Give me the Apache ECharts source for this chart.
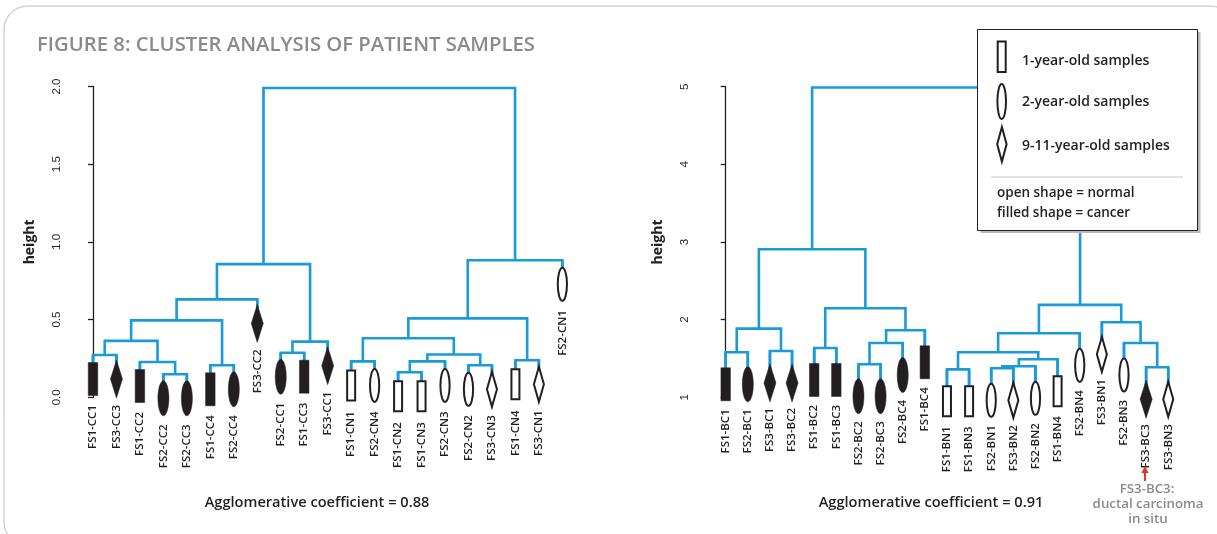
<!DOCTYPE html>
<html><head><meta charset="utf-8">
<script src="https://cdn.jsdelivr.net/npm/echarts@6/dist/echarts.min.js"></script>
<style>html,body{margin:0;padding:0;background:#fff}#c{width:1217px;height:534px}</style>
</head><body><div id="c"></div>
<script>
// ---------- Left dendrogram (C samples) ----------
const leftLabels = ['FS1-CC1','FS3-CC3','FS1-CC2','FS2-CC2','FS2-CC3','FS1-CC4','FS2-CC4','FS3-CC2','FS2-CC1','FS1-CC3','FS3-CC1',
  'FS1-CN1','FS2-CN4','FS1-CN2','FS1-CN3','FS2-CN3','FS2-CN2','FS3-CN3','FS1-CN4','FS3-CN1','FS2-CN1'];
const leftShapes = ['rect','diamond','rect','ellipse','ellipse','rect','ellipse','diamond','ellipse','rect','diamond',
  'rect','ellipse','rect','rect','ellipse','ellipse','diamond','rect','diamond','ellipse'];
const leftFilled = [1,1,1,1,1,1,1,1,1,1,1, 0,0,0,0,0,0,0,0,0,0];
// merge matrix (R convention: negative = leaf number, positive = earlier merge row)
const leftMerges = [[-4,-5],[-14,-15],[-6,-7],[-17,-18],[-3,1],[2,-16],[-12,-13],[-19,-20],[-1,-2],[6,4],
  [-9,-10],[11,-11],[9,5],[7,10],[13,3],[14,8],[15,-8],[17,12],[16,-21],[18,19]];
const leftHeights = [0.148,0.161,0.206,0.206,0.227,0.231,0.231,0.238,0.272,0.275,
  0.287,0.358,0.363,0.380,0.495,0.508,0.630,0.857,0.882,1.99];
const leftTicks = [0, 0.5, 1, 1.5, 2];

// ---------- Right dendrogram (B samples) ----------
const rightLabels = ['FS1-BC1','FS2-BC1','FS3-BC1','FS3-BC2','FS1-BC2','FS1-BC3','FS2-BC2','FS2-BC3','FS2-BC4','FS1-BC4',
  'FS1-BN1','FS1-BN3','FS2-BN1','FS3-BN2','FS2-BN2','FS1-BN4','FS2-BN4','FS3-BN1','FS2-BN3','FS3-BC3','FS3-BN3'];
const rightShapes = ['rect','ellipse','diamond','diamond','rect','rect','ellipse','ellipse','ellipse','rect',
  'rect','rect','ellipse','diamond','ellipse','rect','ellipse','diamond','ellipse','diamond','diamond'];
const rightFilled = [1,1,1,1,1,1,1,1,1,1, 0,0,0,0,0,0,0,0,0,1,0];
const rightMerges = [[-7,-8],[-11,-12],[-13,-14],[-20,-21],[3,-15],[5,-16],[-1,-2],[-3,-4],[2,6],[-5,-6],
  [1,-9],[-19,4],[9,-17],[11,-10],[7,8],[-18,12],[10,14],[13,16],[15,17],[19,18]];
const rightHeights = [1.425,1.36,1.374,1.387,1.40,1.49,1.58,1.597,1.58,1.635,
  1.70,1.70,1.825,1.863,1.884,1.966,2.147,2.19,2.907,4.99];
const rightTicks = [1, 2, 3, 4, 5];

const BLUE = '#1a9ad8';
const INK = '#231f20';
const GRAY = '#8a8a8a';

function layout(merges, heights, n) {
  const mx = [];
  const pos = c => c < 0 ? (-c - 1) : mx[c - 1];
  const hOf = (c, own) => c < 0 ? own : heights[c - 1];
  const links = [];
  merges.forEach((m, i) => {
    mx[i] = (pos(m[0]) + pos(m[1])) / 2;
    links.push([pos(m[0]), pos(m[1]), heights[i], hOf(m[0], heights[i]), hOf(m[1], heights[i]), m[0] < 0 ? 1 : 0, m[1] < 0 ? 1 : 0]);
  });
  const leaves = [];
  merges.forEach((m, i) => m.forEach(c => { if (c < 0) leaves[-c - 1] = [-c - 1, heights[i]]; }));
  return { links, leaves };
}

function linkRender(hang) {
  return function (params, api) {
    const a = api.coord([api.value(0), api.value(2)]);
    const b = api.coord([api.value(1), api.value(2)]);
    const yl = api.value(5) ? a[1] + hang : api.coord([api.value(0), api.value(3)])[1];
    const yr = api.value(6) ? b[1] + hang : api.coord([api.value(1), api.value(4)])[1];
    return {
      type: 'polyline',
      shape: { points: [[a[0], yl], [a[0], a[1]], [b[0], b[1]], [b[0], yr]] },
      style: { stroke: BLUE, lineWidth: 2.6, fill: null, lineJoin: 'miter' }
    };
  };
}

function shapeEl(kind, filled, cx, cy) {
  const st = filled ? { fill: INK, stroke: INK, lineWidth: 0.5 } : { fill: '#fff', stroke: INK, lineWidth: 2 };
  if (kind === 'rect') {
    const w = filled ? 9.5 : 8, h = filled ? 33 : 30;
    return { type: 'rect', shape: { x: cx - w / 2, y: cy - h / 2, width: w, height: h }, style: st };
  }
  if (kind === 'ellipse') {
    return { type: 'ellipse', shape: { cx: cx, cy: cy, rx: filled ? 5.5 : 4.6, ry: filled ? 17.5 : 16.5 }, style: st };
  }
  const hw = filled ? 6 : 5, hh = filled ? 19 : 17.5;
  return { type: 'polygon', shape: { points: [[cx, cy - hh], [cx + hw, cy], [cx, cy + hh], [cx - hw, cy]] }, style: st };
}

function leafRender(labels, shapes, filled, hang, gap) {
  return function (params, api) {
    const i = params.dataIndex;
    const p = api.coord([api.value(0), api.value(1)]);
    const cx = p[0], cy = p[1] + hang;
    return {
      type: 'group',
      children: [
        { type: 'line', shape: { x1: cx, y1: p[1], x2: cx, y2: cy }, style: { stroke: BLUE, lineWidth: 2.6 } },
        shapeEl(shapes[i], filled[i], cx, cy),
        { type: 'text', x: cx, y: cy + gap, rotation: Math.PI / 2,
          style: { text: labels[i], fill: INK, font: '600 11.5px "Open Sans", sans-serif', align: 'right', verticalAlign: 'middle' } }
      ]
    };
  };
}

const L = layout(leftMerges, leftHeights, leftLabels.length);
const R = layout(rightMerges, rightHeights, rightLabels.length);

function yAxisCfg(grid, min, max, interval, ticks, digits) {
  return {
    gridIndex: grid, type: 'value', min: min, max: max, interval: interval,
    axisLine: { show: true, lineStyle: { color: INK, width: 1.3 } },
    axisTick: { show: true, length: 5, lineStyle: { color: INK, width: 1.3 } },
    splitLine: { show: false },
    axisLabel: { rotate: 90, margin: 8, color: INK, fontSize: 11.5, fontFamily: '"Liberation Sans", Arial, sans-serif',
      formatter: v => ticks.includes(v) ? v.toFixed(digits) : '' },
    name: 'height', nameLocation: 'middle', nameRotate: 90, nameGap: 34,
    nameTextStyle: { color: INK, fontSize: 14, fontWeight: 'bold', fontFamily: '"Open Sans", sans-serif' }
  };
}

const chart = echarts.init(document.getElementById('c'), null, { renderer: 'canvas' });
const txt = (x, y, s, o) => Object.assign({ type: 'text', x: x, y: y, z: 101, style: Object.assign({ text: s, fill: INK, font: '600 14px "Open Sans", sans-serif', align: 'left', verticalAlign: 'middle' }, o || {}) });

chart.setOption({
  animation: false,
  backgroundColor: '#fff',
  grid: [
    { left: 71, top: 86.5, width: 520, height: 310.8 },
    { left: 699, top: 86.7, width: 500, height: 310.6 }
  ],
  xAxis: [
    { gridIndex: 0, type: 'value', min: -0.937, max: 21.22, show: false },
    { gridIndex: 1, type: 'value', min: -1.206, max: 21.39, show: false }
  ],
  yAxis: [
    yAxisCfg(0, 0, 2, 0.5, leftTicks, 1),
    yAxisCfg(1, 1, 5, 1, rightTicks, 0)
  ],
  series: [
    { type: 'custom', xAxisIndex: 0, yAxisIndex: 0, clip: false, z: 2, data: L.links, renderItem: linkRender(24) },
    { type: 'custom', xAxisIndex: 0, yAxisIndex: 0, clip: false, z: 3, data: L.leaves, renderItem: leafRender(leftLabels, leftShapes, leftFilled, 24, 26) },
    { type: 'custom', xAxisIndex: 1, yAxisIndex: 1, clip: false, z: 2, data: R.links, renderItem: linkRender(32) },
    { type: 'custom', xAxisIndex: 1, yAxisIndex: 1, clip: false, z: 3, data: R.leaves, renderItem: leafRender(rightLabels, rightShapes, rightFilled, 32, 25) }
  ],
  graphic: [
    { type: 'rect', z: 0, shape: { x: 4, y: 6, width: 1230, height: 540, r: 24 }, style: { fill: null, stroke: '#d2d2d2', lineWidth: 1.5 } },
    txt(37, 45, 'FIGURE 8: CLUSTER ANALYSIS OF PATIENT SAMPLES', { fill: GRAY, font: '600 20.3px "Open Sans", sans-serif' }),
    // legend
    { type: 'rect', z: 100, shape: { x: 980.5, y: 32, width: 220, height: 201 }, style: { fill: '#b9b9b9' } },
    { type: 'rect', z: 100, shape: { x: 977.5, y: 29.5, width: 220, height: 201 }, style: { fill: '#fff', stroke: INK, lineWidth: 1 } },
    { type: 'rect', z: 101, shape: { x: 997.7, y: 41.5, width: 8, height: 30.5 }, style: { fill: '#fff', stroke: INK, lineWidth: 2 } },
    { type: 'ellipse', z: 101, shape: { cx: 1001.7, cy: 101.5, rx: 4.3, ry: 17.5 }, style: { fill: '#fff', stroke: INK, lineWidth: 2 } },
    { type: 'polygon', z: 101, shape: { points: [[1001.9, 127], [1006.6, 144.3], [1001.9, 161.6], [997.2, 144.3]] }, style: { fill: '#fff', stroke: INK, lineWidth: 2 } },
    txt(1022, 61, '1-year-old samples'),
    txt(1022, 102, '2-year-old samples'),
    txt(1022, 146.5, '9-11-year-old samples'),
    { type: 'line', z: 101, shape: { x1: 991, y1: 177, x2: 1183, y2: 177 }, style: { stroke: '#c4c4c4', lineWidth: 1 } },
    txt(997, 193, 'open shape = normal', { font: '600 13.5px "Open Sans", sans-serif' }),
    txt(997, 213, 'filled shape = cancer', { font: '600 13.5px "Open Sans", sans-serif' }),
    // coefficients
    txt(317, 503, 'Agglomerative coefficient = 0.88', { align: 'center', font: '600 14.6px "Open Sans", sans-serif' }),
    txt(931, 503, 'Agglomerative coefficient = 0.91', { align: 'center', font: '600 14.6px "Open Sans", sans-serif' }),
    // annotation
    { type: 'line', z: 101, shape: { x1: 1145, y1: 472, x2: 1145, y2: 481 }, style: { stroke: '#e0352b', lineWidth: 2 } },
    { type: 'polygon', z: 101, shape: { points: [[1145, 466], [1141.3, 473], [1148.7, 473]] }, style: { fill: '#e0352b' } },
    txt(1147, 489, 'FS3-BC3:', { align: 'center', fill: GRAY, font: '600 13.3px "Open Sans", sans-serif' }),
    txt(1148, 504.5, 'ductal carcinoma', { align: 'center', fill: GRAY, font: '600 13.3px "Open Sans", sans-serif' }),
    txt(1148, 519, 'in situ', { align: 'center', fill: GRAY, font: '600 13.3px "Open Sans", sans-serif' })
  ]
});
</script></body></html>
